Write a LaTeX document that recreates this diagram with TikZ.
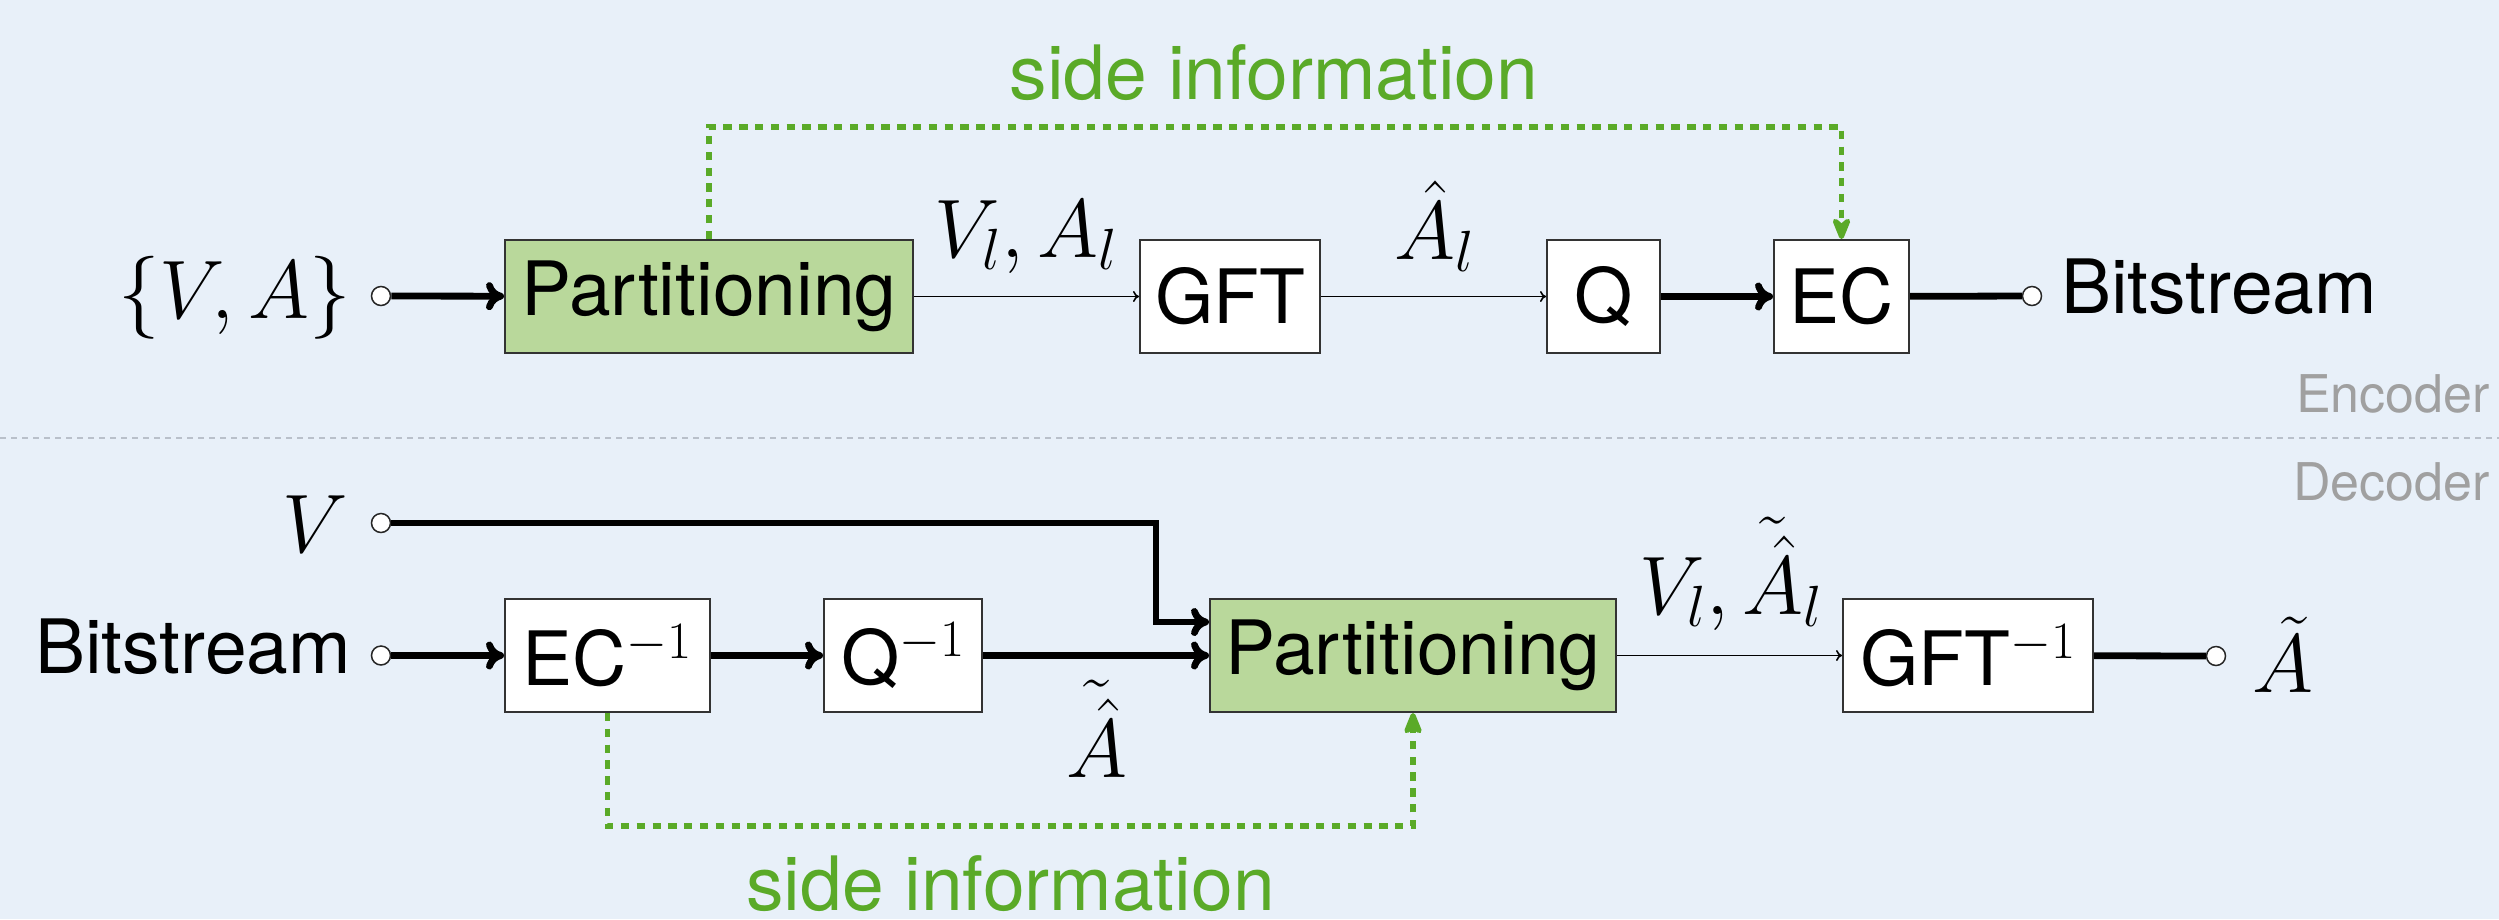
\RequirePackage{fix-cm}
\documentclass[tikz,border=0pt]{standalone}
\usepackage{fontspec}
\newfontfamily\helv{TeX Gyre Heros}
\usetikzlibrary{calc,arrows.meta}
\definecolor{bgc}{RGB}{232,240,249}
\definecolor{partgreen}{RGB}{185,216,155}
\definecolor{sidegreen}{RGB}{90,170,40}
\definecolor{lblgray}{RGB}{160,160,160}
\definecolor{sepgray}{RGB}{185,192,202}
\newcommand\sffnt{\fontsize{75}{90}\selectfont\helv}
\newcommand\mfnt{\fontsize{83}{95}\selectfont}
\tikzset{
  blk/.style={draw=black!80, line width=2pt, fill=white, inner sep=0pt, minimum height=113pt, font=\sffnt},
  grn/.style={blk, fill=partgreen},
  port/.style={circle, draw=black!85, line width=1.5pt, fill=white, inner sep=0pt, minimum size=19pt},
  thk/.style={line width=6.8pt},
  thkarr/.style={thk, -{To[length=18pt, width=28pt, round]}},
  thn/.style={line width=1.6pt},
  thnarr/.style={thn, -{To[length=6pt, width=11pt]}},
  sideline/.style={draw=sidegreen, line width=5.5pt, dash pattern=on 8.3pt off 7.5pt},
  sidearr/.style={sideline, -{Stealth[length=30pt, width=24pt, inset=10pt, round]}},
  mlab/.style={inner sep=0pt, font=\mfnt},
  slab/.style={inner sep=0pt, font=\sffnt},
  glab/.style={inner sep=0pt, font=\fontsize{52}{60}\selectfont\helv, text=lblgray},
  sidelab/.style={inner sep=0pt, font=\sffnt, text=sidegreen}
}
\begin{document}
\begin{tikzpicture}[x=1pt,y=-1pt]
\fill[bgc] (0,0) rectangle (2499,919);
\useasboundingbox (0,0) rectangle (2499,919);
\draw[sepgray, line width=2pt, dash pattern=on 6pt off 5pt] (0,438) -- (2499,438);

% Encoder
\node[mlab, anchor=base] (lin) at (234.5,318) {$\{V,A\}$};
\node[port] (inA) at (381,296) {};
\node[grn, minimum width=408pt] (part1) at (709,296.5) {Partitioning};
\node[blk, minimum width=180pt] (gft) at (1230,296.5) {GFT};
\node[blk, minimum width=113pt] (q) at (1603.5,296.5) {Q};
\node[blk, minimum width=135pt] (ec) at (1841.5,296.5) {EC};
\node[port] (outA) at (2032,296) {};
\node[slab, anchor=base west] (bs1) at (2061,313) {Bitstream};
\node[mlab, anchor=base] (l1) at (1026,257) {$V_l, A_l$};
\node[mlab, anchor=base] (l2) at (1434,259) {$\hat{A}_l$};
\node[sidelab, anchor=base] (si1) at (1274,99) {side information};
\node[glab, anchor=base east] (enc) at (2490,412) {Encoder};
\node[glab, anchor=base east] (dec) at (2490,500) {Decoder};

\draw[thkarr] (inA) -- (part1);
\draw[thnarr] (part1) -- (gft);
\draw[thnarr] (gft) -- (q);
\draw[thkarr] (q) -- (ec);
\draw[thk] (ec) -- (outA);
\coordinate (t1) at (709,127);
\draw[sidearr] (part1.north) -- (t1) -| (ec.north);

% Decoder
\node[mlab, anchor=base] (lv) at (315,552) {$V$};
\node[port] (vc) at (381,523) {};
\node[slab, anchor=base east] (bs2) at (351,673) {Bitstream};
\node[port] (bc) at (381,655.5) {};
\node[blk, minimum width=205pt] (ec1) at (607.5,655.5) {EC$^{-1}$};
\node[blk, minimum width=158pt] (q1) at (903,655.5) {Q$^{-1}$};
\node[grn, minimum width=406pt] (part2) at (1413,655.5) {Partitioning};
\node[blk, minimum width=250pt] (gft1) at (1968,655.5) {GFT$^{-1}$};
\node[port] (oc2) at (2216,656) {};
\node[mlab, anchor=base] (lout) at (2283,692) {$\tilde{A}$};
\node[mlab, anchor=base] (l3) at (1097,777) {$\tilde{\hat{A}}$};
\node[mlab, anchor=base] (l4) at (1731,614) {$V_l, \tilde{\hat{A}}_l$};
\node[sidelab, anchor=base] (si2) at (1010.5,910) {side information};

\coordinate (vk) at (1156,622);
\draw[thkarr] (vc) -| (vk) -- (vk -| part2.west);
\draw[thkarr] (bc) -- (ec1);
\draw[thkarr] (ec1) -- (q1);
\draw[thkarr] (q1) -- (part2);
\draw[thnarr] (part2) -- (gft1);
\draw[thk] (gft1) -- (oc2);
\coordinate (b1) at (607.5,826);
\draw[sidearr] (ec1.south) -- (b1) -| (part2.south);
\end{tikzpicture}
\end{document}
